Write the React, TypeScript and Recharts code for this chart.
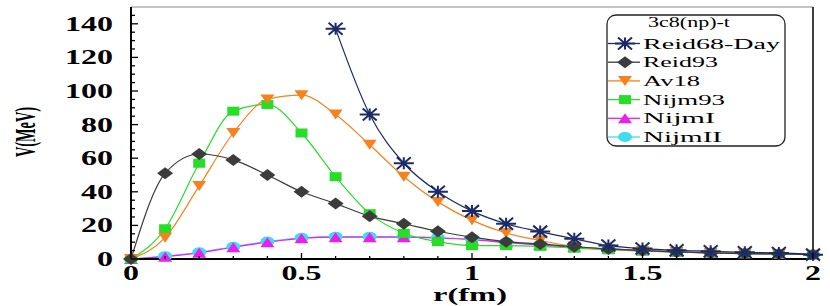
import React from 'react';
import { LineChart, Line, XAxis, YAxis, ReferenceLine } from 'recharts';

const rValues = [0, 0.1, 0.2, 0.3, 0.4, 0.5, 0.6, 0.7, 0.8, 0.9, 1.0, 1.1, 1.2, 1.3, 1.4, 1.5, 1.6, 1.7, 1.8, 1.9, 2.0];
const reid68Day = [null, null, null, null, null, null, 137, 86, 57, 40, 28.5, 21, 16.3, 12, 8, 6.2, 5.2, 4.6, 4, 3.6, 2.6];
const reid93 = [0, 51, 62.5, 59, 50, 40, 33, 25.5, 21, 16.5, 13, 10.3, 9, 7.3, 6, 5, 4.2, 3.6, 3.2, 3, 2.6];
const av18 = [0, 12.7, 43.5, 75, 95, 97.5, 86, 68, 49, 34, 23, 15.5, 11, 7.5, 5.8, 4.8, 4.1, 3.6, 3.2, 3, 2.6];
const nijm93 = [0, 18, 57, 88, 92, 75, 49, 27, 15.3, 10.3, 7.9, 8, 7.5, 6.5, 5.5, 4.8, 4.1, 3.6, 3.2, 3, 2.6];
const nijmI = [0, 1.4, 3.7, 7, 10, 12.3, 13, 13, 13, 12.5, 11.5, 9.8, 8.3, 7, 6, 5, 4.3, 3.7, 3.3, 3, 2.7];
const nijmII = [0, 1.7, 4, 7.3, 10.4, 12.6, 13.3, 13.3, 13.2, 12.8, 11.7, 10, 8.5, 7.2, 6.1, 5.1, 4.4, 3.8, 3.3, 3.1, 2.7];

const seriesNames = ['Reid68-Day', 'Reid93', 'Av18', 'Nijm93', 'NijmI', 'NijmII'];
const legendTitle = '3c8(np)-t';
const yTicks = [0, 5, 10, 15, 20, 25, 30, 35, 40, 45, 50, 55, 60, 65, 70, 75, 80, 85, 90, 95, 100, 105, 110, 115, 120, 125, 130, 135, 140, 145];
const xTitle = 'r(fm)';
const yTitle = 'V(MeV)';

const data = rValues.map((r, i) => ({
  r,
  reid68Day: reid68Day[i],
  reid93: reid93[i],
  av18: av18[i],
  nijm93: nijm93[i],
  nijmI: nijmI[i],
  nijmII: nijmII[i],
}));

const NAVY = '#1b2b68';
const GRAY = '#3c3c3c';
const ORANGE = '#f5821f';
const GREEN = '#27dd27';
const MAGENTA = '#ea1fea';
const CYAN = '#3fdbee';
const SERIF = '"Liberation Serif", "Times New Roman", serif';
const serifStyle = { fontFamily: SERIF };

type MP = { cx: number; cy: number };
const StarM = ({ cx, cy }: MP) => (
  <path d={`M${cx - 10},${cy} L${cx + 10},${cy} M${cx - 7},${cy - 6} L${cx + 7},${cy + 6} M${cx - 7},${cy + 6} L${cx + 7},${cy - 6} M${cx},${cy - 6} L${cx},${cy + 6}`} stroke={NAVY} strokeWidth={2} fill="none" />
);
const DiamondM = ({ cx, cy }: MP) => (
  <polygon points={`${cx},${cy - 6} ${cx + 8},${cy} ${cx},${cy + 6} ${cx - 8},${cy}`} fill={GRAY} />
);
const DownTriM = ({ cx, cy }: MP) => (
  <polygon points={`${cx - 7},${cy - 5} ${cx + 7},${cy - 5} ${cx},${cy + 5}`} fill={ORANGE} />
);
const SquareM = ({ cx, cy }: MP) => <rect x={cx - 6} y={cy - 4.5} width={12} height={9} fill={GREEN} />;
const UpTriM = ({ cx, cy }: MP) => (
  <polygon points={`${cx - 7},${cy + 5} ${cx + 7},${cy + 5} ${cx},${cy - 5}`} fill={MAGENTA} />
);
const CircleM = ({ cx, cy }: MP) => <ellipse cx={cx} cy={cy} rx={7} ry={5} fill={CYAN} />;

const markers = [StarM, DiamondM, DownTriM, SquareM, UpTriM, CircleM];
const colors = [NAVY, GRAY, ORANGE, GREEN, MAGENTA, CYAN];

const makeDot = (M: any) => (props: any) => {
  const { cx, cy, index, value } = props;
  if (cx == null || cy == null || value == null || (Array.isArray(value) && value[1] == null)) {
    return <g key={`e-${index}`} />;
  }
  return <g key={`d-${index}`}><M cx={cx} cy={cy} /></g>;
};

const YTick = (props: any) => {
  const { x, y, payload } = props;
  const v = payload.value;
  const major = v % 20 === 0;
  return (
    <g>
      <line x1={x} y1={y} x2={x + (major ? 7 : 4)} y2={y} stroke="#000" strokeWidth={1.3} />
      {major && (
        <text transform={`translate(${x - 18},${y}) scale(1.6,1)`} textAnchor="end" dy="0.35em" style={serifStyle} fontWeight="bold" fontSize={20} fill="#000">
          {v}
        </text>
      )}
    </g>
  );
};

const XTick = (props: any) => {
  const { x, y, payload } = props;
  const v = payload.value;
  const major = Math.abs(v * 2 - Math.round(v * 2)) < 1e-6;
  return (
    <g>
      <line x1={x} y1={y} x2={x} y2={y - (major ? 6 : 3)} stroke="#000" strokeWidth={1.3} />
      {major && (
        <text transform={`translate(${x},${y + 14}) scale(1.6,1)`} textAnchor="middle" dy="0.35em" style={serifStyle} fontWeight="bold" fontSize={20} fill="#000">
          {String(Math.round(v * 10) / 10)}
        </text>
      )}
    </g>
  );
};

const legendWidths = [137, 75, 57, 82, 72, 79];

const Overlay = () => (
  <svg width={830} height={306} style={{ position: 'absolute', left: 0, top: 0, pointerEvents: 'none' }}>
    <text transform="translate(25,132) rotate(-90) scale(1,1.9)" textAnchor="middle" dy="0.35em" style={serifStyle} fontWeight="bold" fontSize={15} textLength={50} lengthAdjust="spacingAndGlyphs" fill="#000">
      {yTitle}
    </text>
    <text x={470} y={295} dy="0.3em" textAnchor="middle" style={serifStyle} fontWeight="bold" fontSize={19} textLength={74} lengthAdjust="spacingAndGlyphs" fill="#000">
      {xTitle}
    </text>
    <rect x={607} y={15} width={178} height={131} rx={9} ry={9} fill="#fff" stroke="#222" strokeWidth={1.3} />
    <text x={689} y={27} textAnchor="middle" style={serifStyle} fontSize={14.5} textLength={82} lengthAdjust="spacingAndGlyphs" fill="#000">
      {legendTitle}
    </text>
    {seriesNames.map((n, i) => {
      const cy = 43.5 + 18.7 * i;
      const M = markers[i];
      return (
        <g key={n}>
          <line x1={608} y1={cy} x2={640} y2={cy} stroke={colors[i]} strokeWidth={1.3} />
          <M cx={625} cy={cy} />
          <text x={643} y={cy + 5} style={serifStyle} fontSize={14.5} textLength={legendWidths[i]} lengthAdjust="spacingAndGlyphs" fill="#000">
            {n}
          </text>
        </g>
      );
    })}
  </svg>
);

const seriesKeys = ['reid68Day', 'reid93', 'av18', 'nijm93', 'nijmI', 'nijmII'];
const drawOrder = [5, 4, 3, 2, 1, 0];

export default function App() {
  return (
    <div style={{ position: 'absolute', left: 0, top: 0, width: 830, height: 306, background: '#fff' }}>
      <LineChart width={830} height={306} data={data} margin={{ top: 7, right: 17, left: 0, bottom: 0 }}>
        <XAxis
          dataKey="r"
          type="number"
          domain={[0, 2]}
          ticks={rValues}
          height={47}
          tickSize={0}
          tickMargin={0}
          tickLine={false}
          axisLine={{ stroke: '#000', strokeWidth: 2 }}
          tick={<XTick />}
          interval={0}
        />
        <YAxis
          type="number"
          domain={[0, 150]}
          ticks={yTicks}
          width={131}
          tickSize={0}
          tickMargin={0}
          tickLine={false}
          axisLine={{ stroke: '#000', strokeWidth: 2 }}
          tick={<YTick />}
          interval={0}
        />
        <ReferenceLine y={150} stroke="#8a8a8a" strokeWidth={1.2} />
        <ReferenceLine x={2} stroke="#000" strokeWidth={1.5} />
        {drawOrder.map((i) => (
          <Line
            key={seriesKeys[i]}
            dataKey={seriesKeys[i]}
            type="monotone"
            stroke={colors[i]}
            strokeWidth={1.2}
            dot={makeDot(markers[i])}
            activeDot={false}
            isAnimationActive={false}
          />
        ))}
      </LineChart>
      <Overlay />
    </div>
  );
}
